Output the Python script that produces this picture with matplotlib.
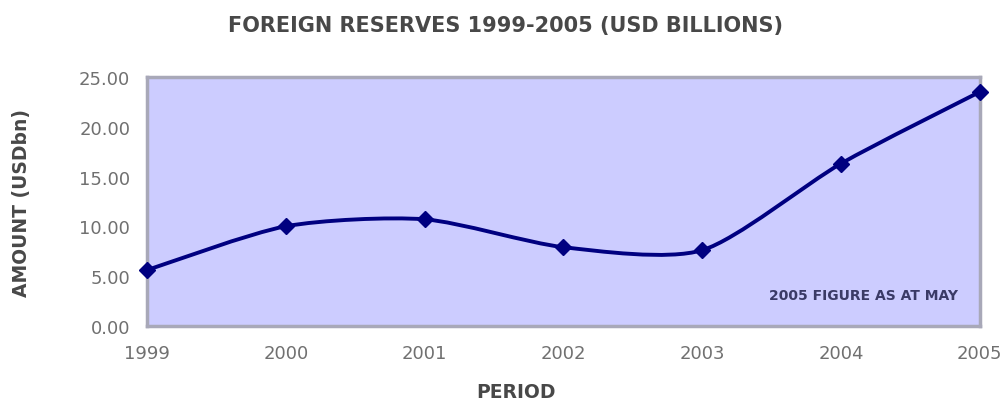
import numpy as np
import matplotlib.pyplot as plt
from matplotlib.path import Path
from matplotlib.patches import PathPatch

plt.rcParams['font.family'] = ['DejaVu Sans']

# Foreign reserves, USD billions
years = ['1999', '2000', '2001', '2002', '2003', '2004', '2005']
reserves = [5.6, 10.0, 10.7, 7.9, 7.6, 16.3, 23.5]
y_ticks = [0, 5, 10, 15, 20, 25]

fig = plt.figure(figsize=(10.07, 4.06), dpi=100)
ax = fig.add_axes([0.146, 0.195, 0.827, 0.613])
ax.set_facecolor('#ccccff')

# smoothed line: Catmull-Rom style segments as cubic Beziers
tension = 1 / 8
x = np.arange(len(years), dtype=float)
y = np.array(reserves)
pts = np.column_stack([x, y])
ext = np.vstack([pts[0], pts, pts[-1]])
verts = [pts[0]]
codes = [Path.MOVETO]
for i in range(len(pts) - 1):
    p0, p1, p2, p3 = ext[i], ext[i + 1], ext[i + 2], ext[i + 3]
    c1 = p1 + (p2 - p0) * tension
    c2 = p2 - (p3 - p1) * tension
    verts += [c1, c2, p2]
    codes += [Path.CURVE4] * 3
curve = PathPatch(Path(verts, codes), facecolor='none', edgecolor='#000080',
                  lw=2.8, clip_on=False, zorder=3)
ax.add_patch(curve)
ax.plot(x, y, linestyle='none', marker='D', markersize=8, color='#000080',
        clip_on=False, zorder=4)

ax.set_xlim(0, len(years) - 1)
ax.set_ylim(0, 25)
ax.set_xticks(x)
ax.set_xticklabels(years)
ax.set_yticks(y_ticks)
ax.set_yticklabels(['%.2f' % v for v in y_ticks])
ax.tick_params(length=0, labelsize=13, colors='#707070')
ax.tick_params(axis='x', pad=13)
ax.tick_params(axis='y', pad=12)

for s in ax.spines.values():
    s.set_color('#a8a8b8')
    s.set_linewidth(2.5)

fig.text(0.502, 0.935, 'FOREIGN RESERVES 1999-2005 (USD BILLIONS)',
         ha='center', va='center', fontsize=15, fontweight='bold', color='#484848')
fig.text(0.021, 0.50, 'AMOUNT (USDbn)', rotation=90, ha='center', va='center',
         fontsize=13.5, fontweight='bold', color='#484848')
fig.text(0.512, 0.033, 'PERIOD', ha='center', va='center',
         fontsize=13.5, fontweight='bold', color='#484848')
ax.text(0.974, 0.125, '2005 FIGURE AS AT MAY', transform=ax.transAxes,
        ha='right', va='center', fontsize=10, fontweight='bold', color='#3a3a66')

plt.savefig('out.png', dpi=100)
